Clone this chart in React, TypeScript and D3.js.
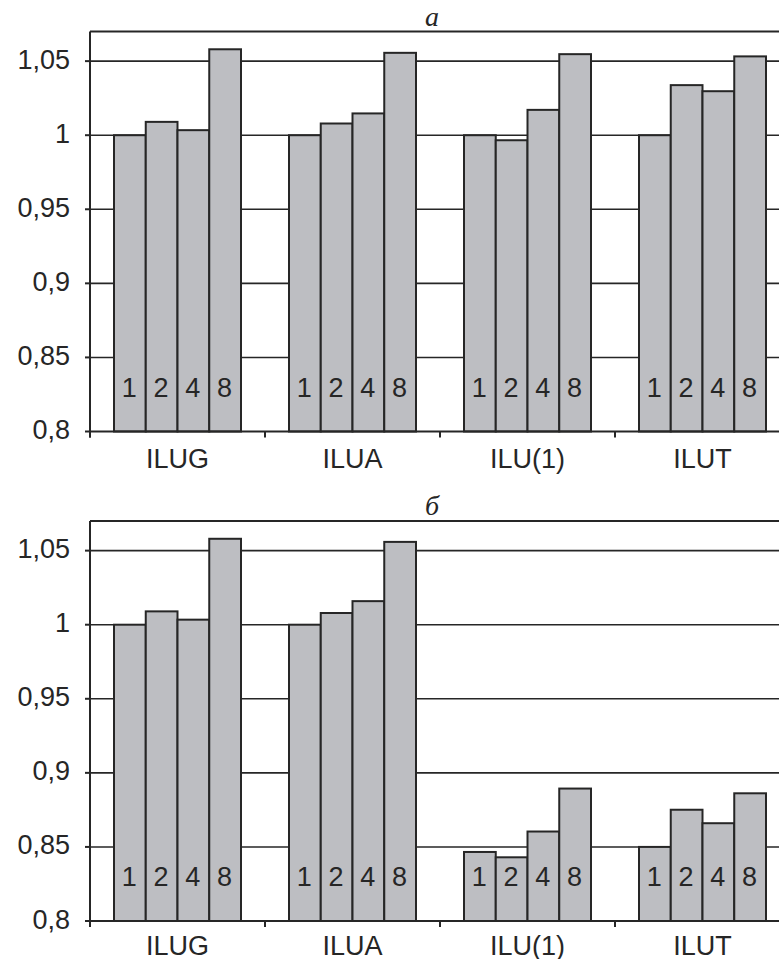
import React from "react";
import * as d3 from "d3";

const categories = ["ILUG", "ILUA", "ILU(1)", "ILUT"];
const seriesLabels = ["1", "2", "4", "8"];
const valuesA = [
  [1.0, 1.009, 1.0034, 1.058],
  [1.0, 1.0079, 1.0147, 1.0556],
  [1.0, 0.9966, 1.0171, 1.0547],
  [1.0, 1.0338, 1.0297, 1.0532],
];
const valuesB = [
  [1.0, 1.009, 1.0034, 1.058],
  [1.0, 1.0079, 1.0159, 1.0559],
  [0.8466, 0.843, 0.8604, 0.8894],
  [0.85, 0.8751, 0.866, 0.8862],
];
const yTicks = [0.8, 0.85, 0.9, 0.95, 1, 1.05];
const yTickLabels = ["0,8", "0,85", "0,9", "0,95", "1", "1,05"];
const yMin = 0.8;
const yMax = 1.07;

const W = 779;
const H = 959;
const LEFT = 90;
const RIGHT_PLOT = 790;
const INK = "#262626";
const BAR_FILL = "#bdbec2";
const SANS = "'Liberation Sans', Arial, Helvetica, sans-serif";
const SERIF = "'Liberation Serif', 'Times New Roman', serif";

function Panel({ values, title, base, catDy }: { values: number[][]; title: string; base: number; catDy: number }) {
  const y = d3.scaleLinear().domain([yMin, yMax]).range([base, base - 400]);
  const x0 = d3.scaleBand<string>().domain(categories).range([LEFT, RIGHT_PLOT]).padding(0);
  const bw = x0.bandwidth();
  const inset = 24;
  const x1 = d3.scaleBand<string>().domain(seriesLabels).range([inset, bw - inset]).padding(0);
  const top = y(yMax);
  return (
    <g>
      <text x={432} y={top - 6} fontFamily={SERIF} fontStyle="italic" fontSize={28} fill={INK} textAnchor="middle">
        {title}
      </text>
      <line x1={LEFT} x2={W} y1={top} y2={top} stroke={INK} strokeWidth={2} />
      {yTicks.slice(1).map((t) => (
        <line key={t} x1={LEFT} x2={W} y1={y(t)} y2={y(t)} stroke={INK} strokeWidth={1.6} />
      ))}
      {categories.map((c, i) => (
        <g key={c} transform={`translate(${x0(c)},0)`}>
          {seriesLabels.map((s, j) => (
            <rect
              key={s}
              x={x1(s)}
              y={y(values[i][j])}
              width={x1.bandwidth()}
              height={y(yMin) - y(values[i][j])}
              fill={BAR_FILL}
              stroke={INK}
              strokeWidth={2}
            />
          ))}
          {seriesLabels.map((s, j) => (
            <text
              key={"l" + s}
              x={(x1(s) as number) + x1.bandwidth() / 2 - 0.5}
              y={y(yMin) - 35}
              fontFamily={SANS}
              fontSize={27}
              fill={INK}
              textAnchor="middle"
            >
              {s}
            </text>
          ))}
          <text x={bw / 2} y={y(yMin) + catDy} fontFamily={SANS} fontSize={27} fill={INK} textAnchor="middle">
            {c}
          </text>
        </g>
      ))}
      <line x1={LEFT} x2={W} y1={y(yMin)} y2={y(yMin)} stroke={INK} strokeWidth={2} />
      {categories.map((c) => (
        <line key={"t" + c} x1={x0(c)} x2={x0(c)} y1={y(yMin)} y2={y(yMin) + 6} stroke={INK} strokeWidth={2} />
      ))}
      <line x1={LEFT} x2={LEFT} y1={top} y2={y(yMin) + 6} stroke={INK} strokeWidth={2} />
      {yTicks.map((t, k) => (
        <g key={"y" + t}>
          <line x1={LEFT - 5} x2={LEFT} y1={y(t)} y2={y(t)} stroke={INK} strokeWidth={2} />
          <text x={70} y={y(t) + 7.5} fontFamily={SANS} fontSize={27} fill={INK} textAnchor="end">
            {yTickLabels[k]}
          </text>
        </g>
      ))}
    </g>
  );
}

export default function App() {
  return (
    <svg width={W} height={H} style={{ position: "absolute", left: 0, top: 0, background: "#fff" }}>
      <rect x={0} y={0} width={W} height={H} fill="#fff" />
      <Panel values={valuesA} title="а" base={431.5} catDy={36} />
      <Panel values={valuesB} title="б" base={921} catDy={33.5} />
    </svg>
  );
}
